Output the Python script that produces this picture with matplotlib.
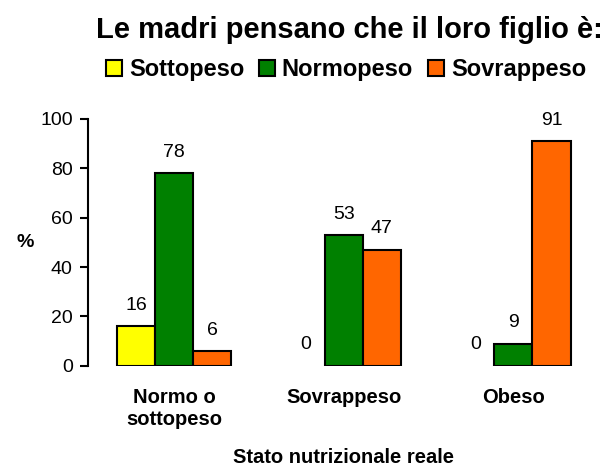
import matplotlib.pyplot as plt
import numpy as np

plt.rcParams['font.family'] = ['Liberation Sans', 'DejaVu Sans']

categories = ['Normo o\nsottopeso', 'Sovrappeso', 'Obeso']
series_names = ['Sottopeso', 'Normopeso', 'Sovrappeso']
sottopeso = [16, 0, 0]
normopeso = [78, 53, 9]
sovrappeso = [6, 47, 91]
colors = ['#FFFF00', '#008000', '#FF6600']

fig = plt.figure(figsize=(6.16, 4.66), dpi=100)
ax = fig.add_axes([0.143, 0.215, 0.83, 0.53])

x = np.arange(len(categories))
w = 0.224
handles = []
for i, (vals, name, c) in enumerate(zip([sottopeso, normopeso, sovrappeso], series_names, colors)):
    pos = x + (i - 1) * w
    bars = ax.bar(pos, vals, width=w, color=c, edgecolor='black', linewidth=1.5, label=name)
    for b, v in zip(bars, vals):
        if v == 0:
            b.set_visible(False)
        ax.text(b.get_x() + w / 2, v + 5, str(v), ha='center', va='bottom', fontsize=14)
    handles.append(bars)

ax.set_ylim(0, 100)
ax.set_yticks([0, 20, 40, 60, 80, 100])
ax.set_xlim(-0.506, 2.506)
ax.set_xticks(x)
ax.set_xticklabels(categories, fontsize=14.5, fontweight='bold', linespacing=1.2)
ax.tick_params(axis='x', length=0, pad=16)
ax.tick_params(axis='y', labelsize=14, direction='out', length=6, width=1.5, pad=5)
for s in ['top', 'right', 'bottom']:
    ax.spines[s].set_visible(False)
ax.spines['left'].set_linewidth(1.5)

ax.set_ylabel('%', fontsize=14, fontweight='bold', rotation=0, va='center', ha='center')
ax.yaxis.set_label_coords(-0.123, 0.5)
ax.set_xlabel('Stato nutrizionale reale', fontsize=14.5, fontweight='bold', labelpad=14)

fig.text(0.567, 0.935, 'Le madri pensano che il loro figlio è:', ha='center', va='center',
         fontsize=21, fontweight='bold')
fig.legend(handles=handles, loc='center', bbox_to_anchor=(0.562, 0.85), ncol=3, frameon=False,
           prop={'weight': 'bold', 'size': 17}, handlelength=0.65, handleheight=0.65,
           handletextpad=0.3, columnspacing=0.65, borderpad=0.2)

fig.savefig('out.png', dpi=100)
